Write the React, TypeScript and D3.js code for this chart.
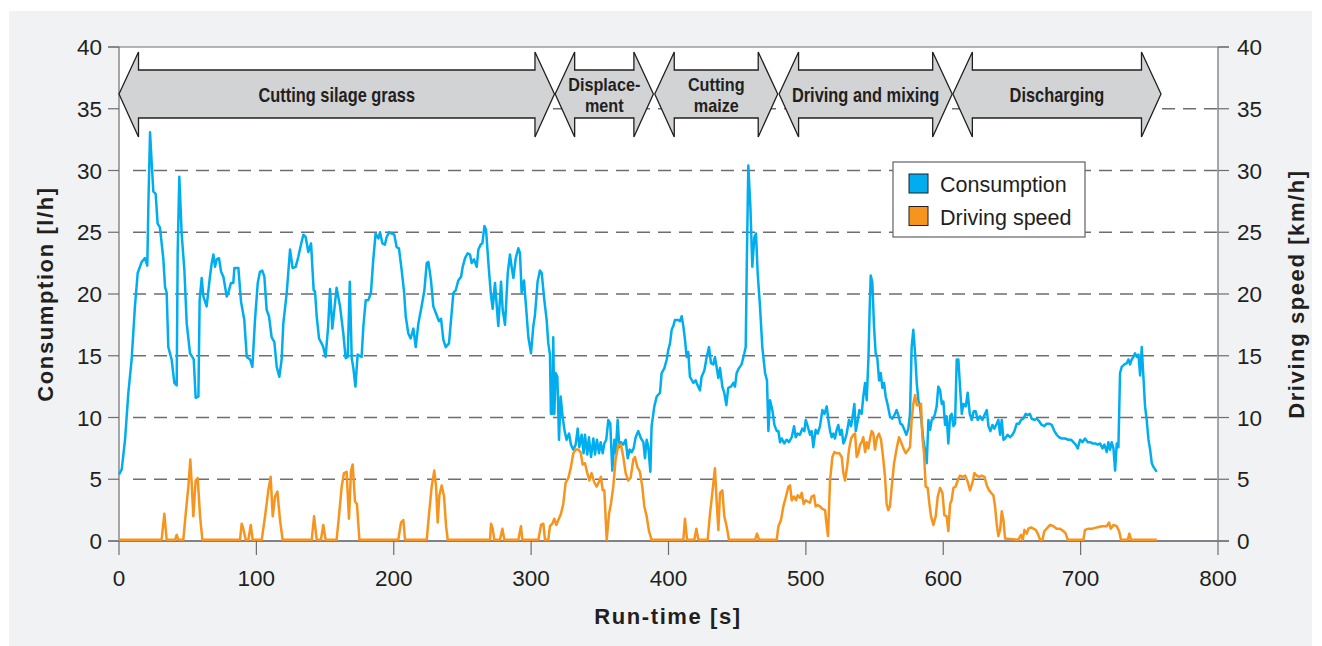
import * as d3 from "d3";
import React from "react";

// run-time [s], consumption [l/h]
const consumption: [number, number][] = [
  [0, 5.4], [2, 5.8], [4.4, 8.2], [6.8, 12], [9.2, 14.7], [11.6, 19], [13.6, 21.7], [16.5, 22.6], [18.9, 22.9], [20.6, 22.3],
  [21.4, 27.3], [22.6, 33.1], [23.8, 30.6], [25, 28.3], [26.7, 28.1], [28.1, 25.7], [29.8, 25.4], [32.3, 22.8], [33.5, 20.6], [34.7, 20.1],
  [35.9, 15.7], [38.3, 14.7], [40.3, 12.8], [42, 12.6], [42.7, 23.3], [43.9, 29.5], [45.6, 24.9], [47.6, 21.9], [49.3, 17.6], [51.7, 15.2],
  [53.4, 14.9], [54.4, 14.7], [55.8, 11.6], [57.8, 11.7], [58.7, 19.5], [60.2, 21.3], [61.4, 19.8], [63.8, 19], [66.2, 21.4], [67.5, 22.5],
  [68.7, 23.2], [69.9, 22.2], [71.1, 22.8], [72.8, 22.9], [74.3, 21.8], [76, 21.4], [78.4, 19.8], [79.6, 20.1], [81.5, 20.9], [83.2, 20.9],
  [84, 22.1], [86.9, 22.1], [88.8, 19.4], [91.2, 17.9], [93, 14.9], [95.4, 14.7], [97.1, 14.1], [99, 17.9], [101, 20.9], [102.6, 21.8],
  [104.3, 21.9], [105.8, 21.4], [107.5, 18.7], [109.2, 18.2], [111.1, 16.5], [113.1, 16.1], [114.8, 14.1], [116.7, 13.3], [118.4, 14.7], [119.6, 17.6],
  [122.1, 20.1], [124.5, 23.6], [126.4, 22.1], [128.6, 22.2], [130.5, 23], [132.5, 24], [134.2, 24.8], [135.9, 24.6], [137.8, 23.4], [139.8, 24.1],
  [141.7, 20.3], [142.7, 20.2], [143.9, 18.2], [145.6, 16.4], [147.5, 16], [148.7, 15.7], [150.4, 14.9], [152.2, 17.3], [153.6, 20.4], [155.3, 17.2],
  [156.7, 18.7], [158.4, 20.5], [160.9, 19], [163.3, 16.8], [165, 14.8], [166.5, 14.9], [168, 21], [169.4, 14.8], [170.6, 14], [172.1, 12.5],
  [173.7, 15.1], [176.6, 14.9], [177.9, 17.4], [179.6, 19.5], [181.5, 19.5], [183.4, 20.1], [185.1, 22.8], [186.8, 24.9], [188.8, 24.5], [190, 25],
  [191.7, 24.1], [193.6, 24], [194.8, 24.6], [196.5, 25], [198.5, 24.9], [200.4, 24.8], [202.1, 23.8], [203.8, 23.7], [205.8, 21.9], [207.5, 20.2],
  [208.7, 18.2], [210.6, 16.8], [212.3, 16.4], [214.3, 17.2], [216, 15.7], [217.9, 17.6], [220.3, 19], [222.3, 20.3], [224, 22.5], [225.2, 22.6],
  [227.1, 21.1], [228.8, 19], [231.2, 18.3], [232.9, 17.8], [234.4, 18], [236.1, 16.3], [237.8, 15.7], [240.2, 16], [241.7, 17.9], [243.4, 20.1],
  [245.1, 20.3], [247, 21.1], [249, 21.4], [250.2, 22.2], [251.9, 22.9], [253.8, 23.3], [255.5, 23.2], [256.7, 22.5], [258.4, 22.8], [260.4, 22.2],
  [261.6, 23.6], [263.3, 24], [264.5, 24.1], [266, 25.5], [267.2, 25.2], [268.9, 22.5], [270.6, 20.1], [272, 18.8], [273.7, 20.9], [276.1, 17.4],
  [278.1, 21], [279.3, 18.7], [281, 17.5], [283, 21.7], [284.6, 23.2], [285.8, 22.2], [287.1, 21.3], [288.8, 22.9], [290.7, 23.7], [291.9, 23.3],
  [293.1, 20.1], [294.8, 21.1], [296, 19.4], [298, 16.5], [299.9, 15.2], [301.6, 17.4], [302.8, 18.3], [304.7, 21], [306.4, 21.9], [307.7, 21.7],
  [309.6, 19.5], [311.3, 17.9], [312.5, 16], [313.7, 15.1], [314.4, 10.3], [315.4, 10.3], [316.1, 16.5], [316.9, 10.3], [317.8, 13.6], [319.1, 13.3],
  [320.3, 8.2], [321.5, 11.7], [322.7, 10.3], [324.2, 9], [325.8, 8.2], [327.6, 8.7], [329, 7.8], [330.7, 7.4], [332.4, 7.8], [333.9, 9.1],
  [335.1, 7.6], [336.8, 8.6], [338.2, 7.1], [339.2, 8.6], [340.9, 7], [342.1, 8.4], [343.6, 6.8], [345.3, 8.3], [346.5, 7], [347.9, 8.2],
  [349.4, 7.1], [350.6, 8], [352.1, 7.1], [353.3, 7.9], [354.7, 8.2], [356.2, 9.8], [357.6, 9.5], [359.1, 5.7], [360.6, 8.2], [361.5, 7.1],
  [363, 9.8], [364.2, 7.6], [365.4, 8], [367.1, 7.8], [368.8, 8.2], [370.3, 6.7], [371.7, 7.4], [373.2, 7.2], [374.6, 7.5], [376.1, 8.4],
  [378, 8.9], [380, 8.3], [381.7, 8], [382.9, 6.7], [384.1, 8.2], [385.3, 7.6], [386.8, 5.6], [387.7, 9.3], [389.7, 10.9], [391.4, 11.7],
  [393.8, 12], [395, 13.6], [397, 14], [398.7, 14.7], [399.9, 15.5], [401.1, 16], [402.3, 17.1], [403.5, 17.4], [404.7, 17.9], [406.7, 17.9],
  [408.4, 17.8], [409.6, 18.2], [410.8, 17.4], [412, 16.3], [413.2, 14.9], [414.4, 15.3], [415.6, 13.3], [418.1, 12.8], [419.8, 13], [421.2, 12.6],
  [422.9, 12.2], [424.1, 13.3], [426.1, 13.8], [427.8, 14.9], [429.5, 15.7], [430.9, 14.4], [432.6, 14.3], [433.8, 14.9], [435, 14.1], [436.3, 13.2],
  [437.5, 14], [439.2, 12.5], [440.6, 12], [442.1, 11], [443.5, 12.4], [445.5, 12.5], [447.2, 12.8], [448.4, 12.5], [449.6, 13.6], [451.3, 14],
  [453.2, 14.3], [455.2, 15.2], [456.2, 15.7], [457.1, 23.3], [458.1, 30.4], [459.6, 27.1], [461, 22.2], [462.5, 24.6], [463.7, 24.9], [464.9, 21.7],
  [466.6, 19], [468.3, 15.7], [470.3, 13.6], [471.7, 13], [472.7, 8.9], [473.9, 11.4], [475.6, 10.6], [477.1, 9.4], [478.8, 8.9], [480, 8.9],
  [481.2, 8], [482.4, 8.3], [484.3, 7.9], [486, 8.2], [487.7, 8], [489.7, 8.4], [491.4, 9.3], [492.6, 8.4], [494, 8.7], [495.7, 8.6],
  [497.4, 9.1], [498.9, 8.9], [499.9, 9.8], [501.3, 9.3], [503, 8.6], [504.2, 8.9], [505.4, 7.6], [507.1, 9], [508.6, 8.7], [510.3, 9.3],
  [512, 10.6], [513.5, 10.3], [515.2, 10.9], [516.4, 9.8], [517.6, 8.9], [518.8, 8.4], [520, 8.7], [521.2, 8.3], [522.4, 9], [523.6, 9.4],
  [524.9, 8.6], [526.1, 9], [527.3, 7.9], [528.5, 8.2], [529.7, 8.7], [531.4, 9.8], [532.9, 9.3], [533.8, 9.9], [535.3, 11.1], [536.3, 8.9],
  [537.7, 9.7], [538.9, 10.6], [540.6, 10.3], [541.8, 11.7], [543.1, 12.8], [544.3, 11.4], [545.5, 14.7], [546.5, 19], [547.2, 21.5], [548.4, 20.9],
  [549.6, 17.4], [550.8, 15.2], [552, 14.8], [553.3, 13], [554.5, 13.6], [555.7, 12.4], [556.9, 12.8], [558.1, 11.7], [559.6, 11], [561.2, 10.1],
  [562.9, 9.9], [564.9, 10.3], [566.1, 10.6], [567.3, 10.2], [568.8, 9.5], [570.2, 9.4], [571.7, 9], [573.1, 8.6], [574.6, 9.1], [575.8, 10.3],
  [577, 15.7], [578.2, 17.1], [579.5, 15.2], [580.7, 12.8], [581.9, 11.4], [583.1, 10.9], [584.3, 9.5], [585.5, 8.2], [586.7, 7.4], [588, 6.3],
  [589.2, 9.8], [590.4, 9], [591.6, 9.8], [592.8, 9.9], [594, 10.3], [595.2, 10.9], [596.4, 12.5], [597.7, 12.2], [598.9, 11.1], [600.1, 11.3],
  [601.3, 9.4], [602.5, 10.1], [603.7, 7.9], [605, 10.1], [606.1, 10.3], [607.4, 9.3], [608.6, 9.5], [609.8, 14.7], [611, 14.7], [612.2, 12.5],
  [613.5, 10.3], [614.7, 11.1], [616.4, 10.9], [617.8, 12], [619.3, 10.3], [620.7, 9.8], [622.2, 10.5], [623.6, 10.5], [625.1, 9.8], [626.8, 10.1],
  [628.5, 9.8], [630.4, 10.3], [631.7, 10.6], [632.9, 9.3], [634.3, 8.9], [635.8, 9.4], [637.2, 9.1], [638.9, 9.5], [640.1, 9.8], [641.4, 8.6],
  [642.6, 9.8], [643.8, 8.2], [645, 8.3], [646.9, 8.6], [648.6, 8.4], [650.3, 8.6], [651.8, 8.9], [653.5, 9.5], [655.2, 9.5], [656.6, 9.8],
  [658.3, 9.9], [660, 10.3], [661.5, 10.2], [663, 10.3], [664.4, 9.9], [666.4, 9.8], [668.1, 9.9], [669.8, 9.7], [671.7, 9.4], [673.6, 9.3],
  [675.3, 9.5], [677, 9.5], [679, 9.4], [680.9, 8.9], [682.6, 8.6], [684.3, 8.4], [686.3, 8.3], [688.7, 8.3], [691.1, 8.2], [693, 8.2],
  [694.7, 8], [696.4, 7.8], [697.9, 7.5], [699.6, 8.2], [701.3, 8], [703.2, 8.3], [705.2, 8], [706.9, 8], [708.6, 7.9], [710.5, 7.9],
  [712.5, 7.8], [714.2, 7.9], [715.9, 7.5], [717.3, 7.8], [719, 7.2], [720.2, 8], [721.4, 7.4], [722.6, 8], [723.9, 7.5], [725.1, 5.7],
  [726.3, 7.9], [727.5, 7.6], [728.7, 13.6], [729.9, 14.1], [731.9, 14.3], [733.6, 14.4], [734.8, 14.7], [736, 14.3], [737.2, 14.7], [738.4, 14.9],
  [739.6, 15.2], [740.9, 14.9], [742.1, 15.1], [743.3, 13.4], [744.5, 15.7], [745.7, 13.3], [746.9, 10.9], [748.1, 9.8], [749.4, 8.2], [750.6, 7.4],
  [751.8, 6.3], [753, 6], [755.4, 5.6],
];

// run-time [s], driving speed [km/h]
const drivingSpeed: [number, number][] = [
  [0, 0.1], [31, 0.1], [33, 2.2], [34.7, 0.1], [40.8, 0.1], [42, 0.5], [43.2, 0.1], [46.8, 0.1], [48.8, 2.5], [50.5, 4.4],
  [51.9, 6.6], [52.9, 4.7], [54.1, 2], [55.8, 4.9], [57.3, 5.1], [59, 2], [60.7, 0.1], [88.1, 0.1], [89.3, 1.4], [90.5, 1],
  [92.2, 0.1], [94.2, 0.1], [95.9, 1.3], [97.3, 0.1], [103.9, 0.1], [106.3, 2], [108.7, 4.1], [110.4, 5.2], [111.9, 2], [113.6, 3.6],
  [115.3, 4], [117.2, 1.7], [119.1, 0.1], [140.3, 0.1], [142, 2], [143.9, 0.1], [147, 0.1], [148.7, 1.3], [150.4, 0.1], [158.4, 0.1],
  [160.1, 2], [162.1, 4.4], [163.8, 5.5], [165.7, 5.6], [167.4, 1.8], [168.9, 5.7], [170.1, 6.2], [171.8, 3.2], [173.2, 3], [175, 0.1],
  [203.3, 0.1], [205.3, 1.5], [207, 1.7], [208.2, 0.1], [224, 0.1], [225.7, 2.2], [227.6, 4.4], [229.5, 5.7], [230.8, 4.4], [232, 1.5],
  [233.2, 3.7], [234.9, 4.5], [236.6, 3.6], [238.1, 1.2], [239.3, 0.1], [270.1, 0.1], [270.8, 1.4], [272, 1], [273.2, 0.1], [277.3, 0.1],
  [279.1, 1], [280.5, 0.1], [290.7, 0.1], [292.6, 1.2], [293.6, 0.1], [305.3, 0.1], [307.2, 1.3], [308.9, 1.4], [310.1, 0.1], [312.5, 0.1],
  [313.7, 1.2], [315.4, 1.4], [316.9, 1.8], [318.3, 1.3], [319.8, 1.7], [321.7, 2.2], [323.4, 3], [325.1, 4.7], [327.1, 5.1], [329, 6],
  [330.7, 7.1], [332.4, 7.4], [334.3, 7.4], [336, 7.2], [337.5, 6.2], [339.2, 6.3], [340.9, 5.5], [342.4, 4.9], [344, 5.5], [345.8, 4.8],
  [347.7, 4.4], [349.4, 4.8], [350.8, 5.2], [352.1, 4.1], [353.3, 4.1], [355, 0.1], [356.7, 2.2], [358.1, 3], [359.8, 4.4], [361.5, 6.6],
  [363.5, 7.8], [365.4, 7.8], [367.1, 6.8], [368.8, 5.5], [370.7, 4.9], [372.4, 5.1], [374.4, 6.6], [375.6, 6.8], [377.3, 6], [379.2, 5.6],
  [380.9, 4.4], [382.4, 2.8], [384.1, 2], [385.8, 0.8], [387.7, 0.1], [410.8, 0.1], [412, 1.8], [413.5, 0.1], [418.8, 0.1], [420.3, 1],
  [421.7, 0.1], [428.5, 0.1], [430.2, 2.2], [432.1, 4.1], [433.8, 5.9], [435, 3.3], [436.3, 0.9], [437.5, 3.9], [439.2, 4.1], [440.6, 2],
  [442.3, 1.2], [444, 0.1], [463, 0.1], [464.4, 0.6], [465.9, 0.1], [478.8, 0.1], [480, 1.2], [481.9, 1.7], [483.6, 2.8], [485.3, 3.5],
  [487.3, 4.4], [488.5, 4.5], [489.7, 3.3], [491.4, 3.6], [492.8, 3.3], [494, 3.7], [495.7, 3.5], [497, 3.9], [498.4, 3], [499.9, 3.3],
  [501.3, 3.2], [503, 3.1], [504.2, 3.6], [505.9, 3.7], [507.1, 2.8], [508.6, 2.9], [510.3, 2.8], [512, 2.6], [514, 2.5], [514.7, 1.7],
  [516.1, 0.4], [517.6, 4.9], [519.3, 6.8], [520.7, 7.2], [522.4, 7.1], [524.4, 7.1], [526.1, 6.8], [527.3, 5.5], [528.5, 4.9], [530, 6],
  [531.4, 7.4], [532.9, 8.3], [534.6, 8.6], [535.8, 8.7], [537, 6.8], [538.2, 7.1], [539.4, 7.8], [540.6, 8], [541.8, 8.4], [543.1, 7.2],
  [544.3, 8], [545.5, 7.5], [546.7, 8.3], [547.9, 8.9], [549.1, 8.7], [550.3, 7.4], [551.8, 8.4], [553.2, 8.7], [554.7, 8.2], [556.2, 6.8],
  [557.6, 5.2], [558.8, 3], [560, 2.5], [561.2, 2.8], [562.5, 4.4], [564.2, 6.3], [566.1, 7.5], [567.8, 8.4], [569.3, 8], [571, 7.5],
  [572.7, 7.1], [574.6, 7.4], [575.8, 7.6], [577, 9.8], [578.2, 11.1], [579.5, 11.8], [580.7, 11], [582.4, 11], [583.8, 11.1], [584.8, 8.4],
  [586, 7.1], [587.2, 4.4], [588.7, 4.3], [589.9, 3], [591.1, 2], [592.8, 1.3], [594.5, 2], [596, 3.6], [597.7, 4.3], [599.4, 3.9],
  [600.8, 2.1], [602.5, 2], [603.7, 0.8], [605, 3], [606.1, 3.3], [607.4, 4.3], [609, 4.4], [610.5, 4.9], [612.2, 5.3], [613.9, 5.2],
  [615.9, 5.3], [617.8, 4.8], [619.5, 4.1], [621.2, 4.7], [622.7, 5.5], [624.4, 5.3], [626.1, 5.2], [628, 5.3], [630, 5.2], [631.7, 4.5],
  [633.4, 4.1], [634.8, 3.9], [636.5, 3.7], [637.7, 2.8], [638.9, 1.4], [640.1, 0.4], [641.4, 0.9], [642.6, 2.4], [643.8, 1.7], [645, 0.2],
  [654.7, 0.1], [656.6, 0.5], [657.9, 0.1], [659.1, 0.9], [660.8, 0.6], [662, 1], [663.9, 1.1], [665.6, 1], [667.3, 0.9], [668.8, 0.6],
  [670.5, 0.1], [672.2, 0.1], [673.6, 0.8], [675.3, 1], [677.8, 1.3], [680.2, 1.2], [682.6, 1], [685, 1], [687.5, 0.8], [689.2, 0.6],
  [690.6, 0.1], [702, 0.1], [703.2, 0.9], [705.7, 1], [708.6, 1], [711.7, 1.1], [715.4, 1.2], [719, 1.2], [720.7, 1.5], [721.9, 1],
  [723.9, 1.3], [726.3, 1.2], [728, 0.8], [729.4, 0.1], [734.3, 0.1], [735.5, 0.6], [736.7, 0.1], [755.4, 0.1],
];

// work phases shown as double arrows (run-time [s])
const phaseLabels = [["Cutting silage grass"], ["Displace-", "ment"], ["Cutting", "maize"], ["Driving and mixing"], ["Discharging"]];
const phaseStart = [0, 317.5, 390, 480.5, 607];
const phaseEnd = [317, 389, 479.5, 606.5, 758.5];

const xTicks = [0, 100, 200, 300, 400, 500, 600, 700, 800];
const yTicks = [0, 5, 10, 15, 20, 25, 30, 35, 40];
const seriesNames = ["Consumption", "Driving speed"];

const BLUE = "#00aeef";
const ORANGE = "#f7941d";
const AXIS = "#6d6e71";
const INK = "#231f20";
const SANS = "'Liberation Sans', Arial, Helvetica, sans-serif";

const x = d3.scaleLinear().domain([0, 800]).range([119, 1218]);
const yLeft = d3.scaleLinear().domain([0, 40]).range([541, 47]);
const yRight = d3.scaleLinear().domain([0, 40]).range([541, 47]);

// double-headed arrow outline between two x positions
const arrowPath = (x0: number, x1: number) => {
  const head = 19.5, mid = 94, bodyTop = 70, bodyBot = 118, headTop = 52, headBot = 137;
  return `M${x0},${mid}L${x0 + head},${headTop}L${x0 + head},${bodyTop}L${x1 - head},${bodyTop}L${x1 - head},${headTop}` +
    `L${x1},${mid}L${x1 - head},${headBot}L${x1 - head},${bodyBot}L${x0 + head},${bodyBot}L${x0 + head},${headBot}Z`;
};

export default function App() {
  const consLine = d3.line<[number, number]>().x((d) => x(d[0])).y((d) => yLeft(d[1]))(consumption) || "";
  const speedLine = d3.line<[number, number]>().x((d) => x(d[0])).y((d) => yRight(d[1]))(drivingSpeed) || "";
  const [x0, x1] = x.range();
  const [yBot, yTop] = yLeft.range();

  return (
    <svg width={1322} height={646} style={{ position: "absolute", left: 0, top: 0 }}>
      <rect x={9} y={11} width={1303} height={640} fill="#f1f2f3" />
      <rect x={x0} y={yTop} width={x1 - x0} height={yBot - yTop} fill="#fff" />

      {/* dashed grid */}
      {yTicks.filter((t) => t > 0 && t < 40).map((t) => (
        <line key={t} x1={x0 + 14} x2={x1} y1={yLeft(t)} y2={yLeft(t)} stroke={AXIS} strokeWidth={1.6} strokeDasharray="13 8" />
      ))}

      {/* frame and axes */}
      <line x1={x0 - 11} x2={x1 + 11} y1={yTop} y2={yTop} stroke={AXIS} strokeWidth={1.2} />
      <line x1={x0} x2={x0} y1={yTop} y2={yBot} stroke={AXIS} strokeWidth={1.2} />
      <line x1={x1} x2={x1} y1={yTop} y2={yBot} stroke={AXIS} strokeWidth={1.2} />
      {yTicks.map((t) => (
        <g key={t}>
          <line x1={x0 - 11} x2={x0} y1={yLeft(t)} y2={yLeft(t)} stroke={AXIS} strokeWidth={1.2} />
          <line x1={x1} x2={x1 + 11} y1={yRight(t)} y2={yRight(t)} stroke={AXIS} strokeWidth={1.2} />
          <text x={102} y={yLeft(t) + 8} textAnchor="end" fontFamily={SANS} fontSize={22.5} fill={INK}>{t}</text>
          <text x={1237} y={yRight(t) + 8} textAnchor="start" fontFamily={SANS} fontSize={22.5} fill={INK}>{t}</text>
        </g>
      ))}
      <line x1={x0 - 11} x2={x1 + 11} y1={yBot} y2={yBot} stroke="#808285" strokeWidth={2.2} />
      {xTicks.map((t) => (
        <g key={t}>
          <line x1={x(t)} x2={x(t)} y1={yBot} y2={yBot + 14} stroke={AXIS} strokeWidth={1.2} />
          <text x={x(t)} y={586} textAnchor="middle" fontFamily={SANS} fontSize={22.5} fill={INK}>{t}</text>
        </g>
      ))}

      {/* series */}
      <path d={consLine} fill="none" stroke={BLUE} strokeWidth={2.5} strokeLinejoin="round" />
      <path d={speedLine} fill="none" stroke={ORANGE} strokeWidth={2.5} strokeLinejoin="round" />

      {/* phase arrows, labels in a condensed bold face */}
      {phaseLabels.map((lines, i) => {
        const a = x(phaseStart[i]), b = x(phaseEnd[i]);
        const cx = (a + b) / 2;
        const two = lines.length > 1;
        return (
          <g key={i}>
            <path d={arrowPath(a, b)} fill="#d1d3d4" stroke={INK} strokeWidth={1.3} />
            {lines.map((s, j) => (
              <g key={j} transform={`translate(${cx},${two ? 91 + j * 20.8 : 102}) scale(${two ? 0.88 : 0.82},1)`}>
                <text x={0} y={0} textAnchor="middle" fontFamily={SANS} fontWeight="bold" fontSize={two ? 18.4 : 20} fill={INK}>{s}</text>
              </g>
            ))}
          </g>
        );
      })}

      {/* legend */}
      <rect x={893} y={162} width={192} height={75} fill="#fff" stroke={AXIS} strokeWidth={1.3} />
      {seriesNames.map((s, i) => (
        <g key={s}>
          <rect x={909} y={174 + i * 32.5} width={19} height={19} fill={i === 0 ? BLUE : ORANGE} stroke={INK} strokeWidth={1} />
          <text x={940} y={192 + i * 32.5} fontFamily={SANS} fontSize={21.5} fill={INK}>{s}</text>
        </g>
      ))}

      {/* axis titles */}
      <text transform="translate(53,294) rotate(-90)" textAnchor="middle" fontFamily={SANS} fontWeight="bold"
        fontSize={22} letterSpacing={1.6} fill={INK}>Consumption [l/h]</text>
      <text transform="translate(1304,294) rotate(-90)" textAnchor="middle" fontFamily={SANS} fontWeight="bold"
        fontSize={22} letterSpacing={1.6} fill={INK}>Driving speed [km/h]</text>
      <text x={668} y={624} textAnchor="middle" fontFamily={SANS} fontWeight="bold" fontSize={22} letterSpacing={1.6}
        fill={INK}>Run-time [s]</text>
    </svg>
  );
}
